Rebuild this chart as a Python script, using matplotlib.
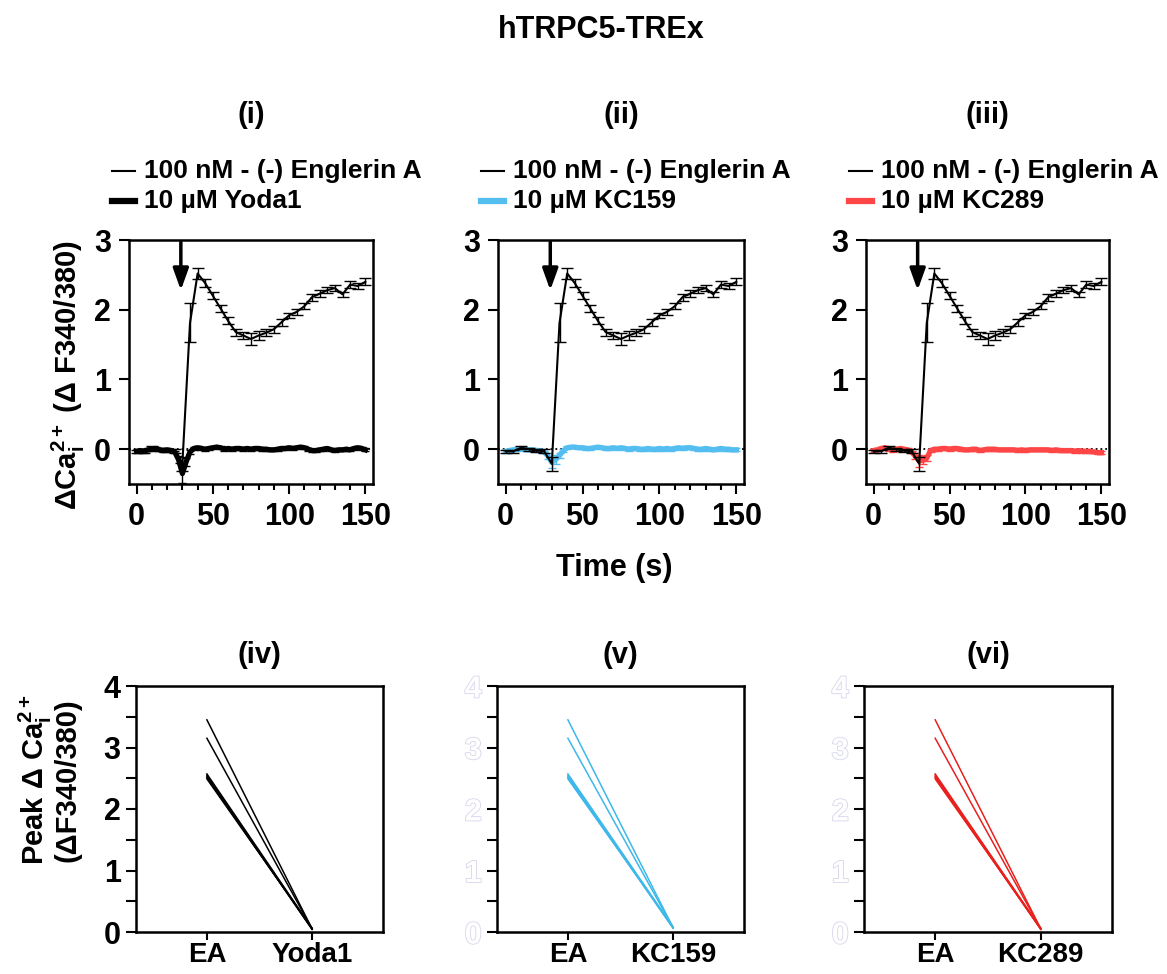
import numpy as np
import matplotlib
matplotlib.use('Agg')
import matplotlib.pyplot as plt
from matplotlib.lines import Line2D
from matplotlib.ticker import MultipleLocator
import matplotlib.patheffects as pe

plt.rcParams['font.family'] = ['Liberation Sans', 'DejaVu Sans']
plt.rcParams['font.weight'] = 'bold'
plt.rcParams['mathtext.fontset'] = 'custom'
plt.rcParams['mathtext.rm'] = 'Liberation Sans:bold'
plt.rcParams['mathtext.it'] = 'Liberation Sans:bold'
plt.rcParams['mathtext.bf'] = 'Liberation Sans:bold'

# Englerin A control trace (same in all three panels)
ea_time = [0, 5, 10, 15, 20, 25, 30, 35, 40, 45, 50, 55, 60, 65, 70, 75, 80, 85, 90, 95,
           100, 105, 110, 115, 120, 125, 130, 135, 140, 145, 150]
ea_mean = [-0.03, -0.03, 0.02, 0.00, -0.02, -0.03, -0.21, 1.81, 2.52, 2.38, 2.20, 2.02, 1.84,
           1.68, 1.63, 1.58, 1.63, 1.67, 1.72, 1.82, 1.92, 1.97, 2.05, 2.18, 2.23, 2.28, 2.31,
           2.22, 2.36, 2.34, 2.40]
ea_sem = [0.02, 0.02, 0.02, 0.02, 0.02, 0.03, 0.10, 0.28, 0.08, 0.06, 0.05, 0.05, 0.05, 0.05,
          0.05, 0.08, 0.06, 0.05, 0.05, 0.05, 0.04, 0.04, 0.04, 0.05, 0.05, 0.04, 0.04, 0.04,
          0.05, 0.04, 0.05]

# drug traces, sampled every 2.5 s
drug_time = np.arange(0, 150.1, 2.5)
yoda1 = [-0.03, -0.02, -0.03, -0.01, 0.00, 0.01, -0.01, -0.02, -0.01, -0.02, -0.04, -0.15,
         -0.35, -0.18, -0.04, 0.01, 0.02, 0.01, 0.00, 0.01, 0.02, 0.03, 0.02, 0.00, 0.01, 0.00,
         0.01, 0.01, 0.00, 0.01, 0.00, 0.01, 0.01, 0.00, 0.00, -0.01, -0.01, 0.00, 0.01, 0.01,
         0.02, 0.01, 0.02, 0.03, 0.02, 0.00, -0.02, -0.02, -0.01, 0.00, 0.01, -0.01, -0.02,
         -0.01, -0.01, 0.00, -0.01, 0.01, 0.02, 0.01, -0.01]
kc159 = [-0.03, -0.02, -0.01, 0.00, 0.01, 0.00, -0.01, -0.01, -0.02, -0.02, -0.04, -0.10,
         -0.19, -0.15, -0.09, -0.02, 0.02, 0.03, 0.03, 0.02, 0.02, 0.01, 0.01, 0.02, 0.03, 0.02,
         0.01, 0.01, 0.02, 0.01, 0.02, 0.01, 0.00, 0.01, 0.01, 0.00, 0.00, 0.01, 0.00, 0.00,
         0.01, 0.00, 0.01, 0.00, 0.01, 0.02, 0.01, 0.02, 0.02, 0.01, 0.00, 0.00, 0.01, 0.00,
         -0.01, 0.00, 0.01, 0.00, 0.00, -0.01, -0.01]
kc289 = [-0.02, -0.01, 0.01, 0.02, 0.00, -0.02, 0.00, 0.01, 0.00, -0.01, -0.04, -0.10,
         -0.17, -0.16, -0.13, -0.02, 0.00, 0.00, 0.01, 0.01, 0.00, 0.01, 0.01, 0.00, -0.01,
         -0.01, 0.00, 0.00, -0.02, -0.01, 0.00, 0.00, 0.00, -0.01, -0.01, -0.01, -0.01, -0.01,
         -0.02, -0.01, -0.02, -0.01, -0.01, -0.01, -0.01, -0.01, -0.01, -0.02, -0.01, -0.02,
         -0.02, -0.02, -0.02, -0.03, -0.02, -0.03, -0.03, -0.03, -0.04, -0.05, -0.05]
yoda1_sem = [0.02] * 11 + [0.05, 0.13, 0.06, 0.03] + [0.02] * 46
kc159_sem = [0.02] * 11 + [0.04, 0.08, 0.06, 0.04] + [0.02] * 46
kc289_sem = [0.02] * 11 + [0.04, 0.08, 0.06, 0.04] + [0.02] * 46

# peak responses, paired
peak_ea = [3.45, 3.15, 2.57, 2.55, 2.53, 2.51, 2.49]
peak_yoda1 = [0.05, 0.05, 0.06, 0.05, 0.04, 0.05, 0.06]
peak_kc159 = [0.07, 0.07, 0.08, 0.07, 0.06, 0.07, 0.08]
peak_kc289 = [0.05, 0.05, 0.06, 0.05, 0.04, 0.05, 0.06]

drug_names = ['Yoda1', 'KC159', 'KC289']
drug_traces = [yoda1, kc159, kc289]
drug_sems = [yoda1_sem, kc159_sem, kc289_sem]
drug_peaks = [peak_yoda1, peak_kc159, peak_kc289]
trace_colors = ['black', '#55BEF0', '#FF4646']
pair_colors = ['black', '#3DB8E8', '#E8201E']
top_labels = ['(i)', '(ii)', '(iii)']
bottom_labels = ['(iv)', '(v)', '(vi)']

W, H = 1167, 974
fig = plt.figure(figsize=(W / 100, H / 100), dpi=100)


def fx(x):
    return x / W


def fy(y):
    return 1 - y / H


top_lefts = [129, 498, 866]
top_widths = [244, 246, 243]
bot_lefts = [136, 497, 864]
bot_widths = [247, 247, 248]

fig.text(fx(601), fy(30), 'hTRPC5-TREx', ha='center', va='center', fontsize=22)

for k in range(3):
    left = top_lefts[k]
    ax = fig.add_axes([fx(left), fy(484), top_widths[k] / W, (484 - 240) / H])
    ax.axhline(0, color='black', ls=':', lw=1.3, zorder=1)
    ax.errorbar(drug_time, drug_traces[k], yerr=drug_sems[k], color=trace_colors[k],
                lw=3.8, elinewidth=1, capsize=3, capthick=1, zorder=2)
    ax.errorbar(ea_time, ea_mean, yerr=ea_sem, color='black', lw=1.5, elinewidth=1,
                capsize=4, capthick=1, zorder=3)
    ax.annotate('', xy=(29, 2.28), xytext=(29, 2.97),
                arrowprops=dict(arrowstyle='-|>,head_length=1.0,head_width=0.36',
                                mutation_scale=13, color='black', lw=2.5,
                                shrinkA=0, shrinkB=0))
    ax.set_xlim(-5, 155)
    ax.set_ylim(-0.5, 3)
    ax.set_xticks([0, 50, 100, 150])
    ax.xaxis.set_minor_locator(MultipleLocator(10))
    ax.set_yticks([0, 1, 2, 3])
    ax.tick_params(axis='both', which='major', labelsize=22, width=1.5, length=7, pad=6)
    ax.tick_params(axis='x', which='minor', width=1.5, length=4)
    for s in ax.spines.values():
        s.set_linewidth(1.8)
    fig.text(fx((left + left + top_widths[k]) / 2), fy(115), top_labels[k],
             ha='center', va='center', fontsize=21)
    # legend
    fig.add_artist(Line2D([fx(left - 17), fx(left + 6)], [fy(171), fy(171)],
                          color='black', lw=1.5))
    fig.add_artist(Line2D([fx(left - 17), fx(left + 6)], [fy(201), fy(201)],
                          color=trace_colors[k], lw=4.5))
    fig.text(fx(left + 15), fy(171), '100 nM - (-) Englerin A', ha='left', va='center',
             fontsize=19)
    fig.text(fx(left + 15), fy(201), '10 µM ' + drug_names[k], ha='left', va='center',
             fontsize=19)

fig.text(fx(68), fy(375), r'ΔCa$^{2+}_{\mathrm{i}}$ (Δ F340/380)', rotation=90,
         ha='center', va='center', fontsize=21)
fig.text(fx(614), fy(568), 'Time (s)', ha='center', va='center', fontsize=22)

for k in range(3):
    left = bot_lefts[k]
    ax = fig.add_axes([fx(left), fy(932), bot_widths[k] / W, (932 - 686) / H])
    for a, b in zip(peak_ea, drug_peaks[k]):
        ax.plot([0, 1], [a, b], color=pair_colors[k], lw=1.1)
    ax.set_xlim(-0.674, 1.674)
    ax.set_ylim(0, 4)
    ax.set_xticks([0, 1])
    ax.set_xticklabels(['EA', drug_names[k]])
    ax.set_yticks([0, 1, 2, 3, 4])
    ax.yaxis.set_minor_locator(MultipleLocator(0.5))
    ax.tick_params(axis='x', which='major', labelsize=20, width=1.5, length=6, pad=1)
    ax.tick_params(axis='y', which='major', labelsize=22, width=1.5, length=7, pad=4)
    ax.tick_params(axis='y', which='minor', width=1.5, length=7)
    for s in ax.spines.values():
        s.set_linewidth(1.8)
    if k > 0:
        for t in ax.get_yticklabels():
            t.set_color('white')
            t.set_path_effects([pe.withStroke(linewidth=1.2, foreground='#d6d6ec')])
    fig.text(fx((left + left + bot_widths[k]) / 2), fy(655), bottom_labels[k],
             ha='center', va='center', fontsize=21)

fig.text(fx(49), fy(780), 'Peak Δ Ca$^{2+}_{\\mathrm{i}}$\n(ΔF340/380)', rotation=90,
         ha='center', va='center', fontsize=21, multialignment='center', linespacing=1.0)

plt.savefig('out.png', dpi=100)
